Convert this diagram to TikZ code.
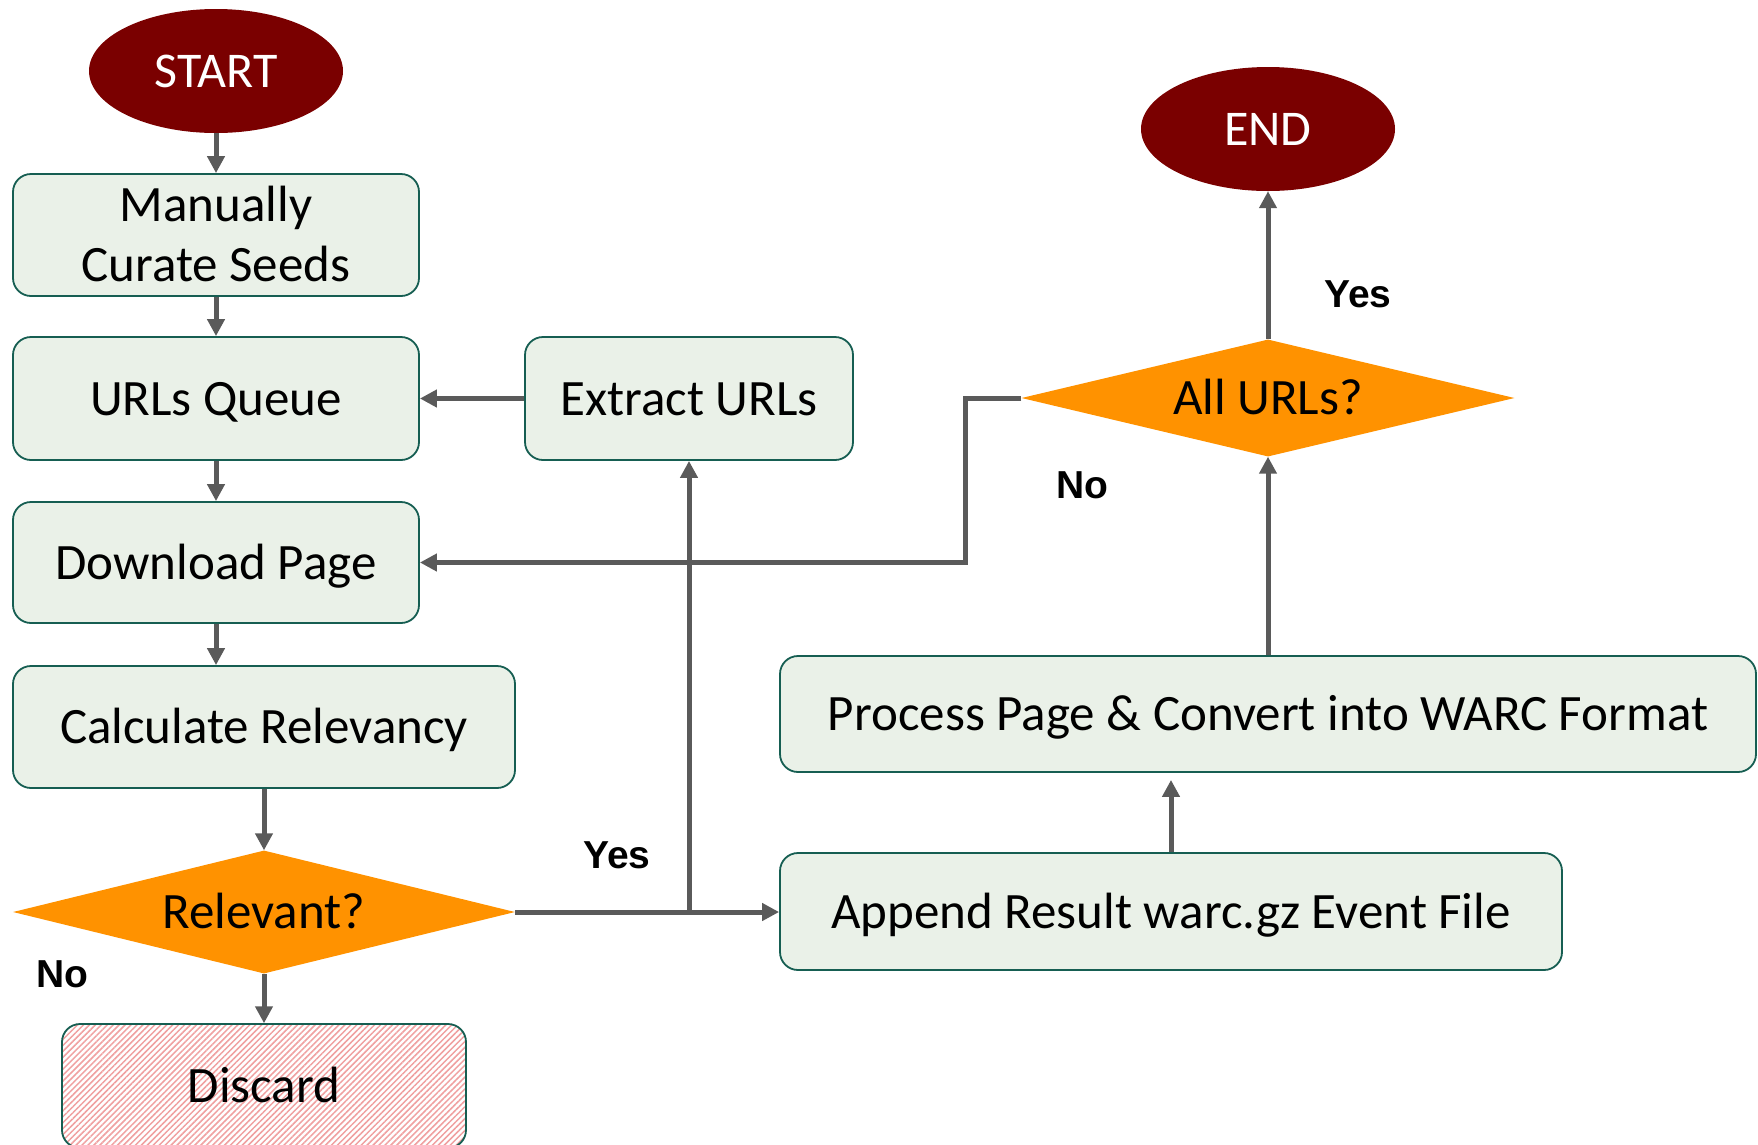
\documentclass[tikz,border=0pt]{standalone}
\usepackage{fontspec}
\setmainfont{Carlito}
\newfontfamily\labfont{Liberation Sans}
\usetikzlibrary{shapes.geometric,arrows.meta,patterns.meta}
\definecolor{boxfill}{RGB}{234,241,232}
\definecolor{boxline}{RGB}{22,94,82}
\definecolor{darkred}{RGB}{122,0,0}
\definecolor{orng}{RGB}{255,146,0}
\definecolor{arrgray}{RGB}{90,90,90}
\definecolor{hatchcol}{RGB}{240,160,160}
\begin{document}
\begin{tikzpicture}[x=1pt,y=-1pt,
 procbox/.style={draw=boxline, line width=1.8pt, fill=boxfill, rounded corners=18pt, inner sep=0pt, align=center, font=\fontsize{51}{60}\selectfont, text height=33pt, text depth=0pt},
 term/.style={ellipse, fill=darkred, text=white, minimum width=254pt, minimum height=124pt, inner sep=0pt, font=\fontsize{50}{60}\selectfont, text height=32pt, text depth=0pt},
 decision/.style={diamond, aspect=4, fill=orng, inner sep=0pt, font=\fontsize{51}{60}\selectfont, text height=33pt, text depth=0pt},
 arr/.style={draw=arrgray, line width=5pt, -{Triangle[length=17pt,width=17pt]}},
 lbl/.style={font=\labfont\bfseries\fontsize{39}{46}\selectfont, inner sep=0pt}
]
\useasboundingbox (0,0) rectangle (1758,1144);

\node[term] (start) at (216,71) {START};
\node[procbox, minimum width=406pt, minimum height=122pt, text height=93pt] (seeds) at (216,235) {Manually\\Curate Seeds};
\node[procbox, minimum width=406pt, minimum height=123pt] (queue) at (216,398.5) {URLs Queue};
\node[procbox, minimum width=406pt, minimum height=121pt] (download) at (216,562.5) {Download Page};
\node[procbox, minimum width=502pt, minimum height=122pt] (calc) at (264,727) {Calculate Relevancy};
\node[decision, minimum width=502pt, minimum height=123pt] (rel) at (264,912) {Relevant?};
\node[procbox, pattern={Lines[angle=45,distance=4.2pt,line width=1.5pt]}, pattern color=hatchcol, preaction={fill=white}, minimum width=404pt, minimum height=124pt] (discard) at (264,1086) {Discard};
\node[procbox, minimum width=328pt, minimum height=123pt] (extract) at (689,398.5) {Extract URLs};
\node[procbox, minimum width=782pt, minimum height=117pt] (append) at (1171,911.5) {Append Result warc.gz Event File};
\node[procbox, minimum width=976pt, minimum height=116pt] (process) at (1268,714) {Process Page \& Convert into WARC Format};
\node[decision, minimum width=493pt, minimum height=117pt] (all) at (1268,398) {All URLs?};
\node[term] (end) at (1268,129) {END};

\coordinate (bend) at (965,398);

\draw[arr] (start) -- (seeds);
\draw[arr] (seeds) -- (queue);
\draw[arr] (queue) -- (download);
\draw[arr] (download.south) -- (download.south |- calc.north);
\draw[arr] (calc) -- (rel);
\draw[arr] (rel) -- (discard);
\draw[arr] (rel.east) -- (rel.east -| append.west);
\draw[arr] (rel.east -| extract.south) -- (extract.south);
\draw[arr] (extract) -- (queue);
\draw[arr] (all.west) -- (bend) |- (download.east);
\draw[arr, shorten >=7pt] (append.north) -- (append.north |- process.south);
\draw[arr] (process.north) -- (all.south);
\draw[arr] (all) -- (end);

\node[lbl] (yes1) at (1358,294) {Yes};
\node[lbl] (no1) at (1082,485) {No};
\node[lbl] (yes2) at (617,855) {Yes};
\node[lbl] (no2) at (62,974) {No};
\end{tikzpicture}
\end{document}
